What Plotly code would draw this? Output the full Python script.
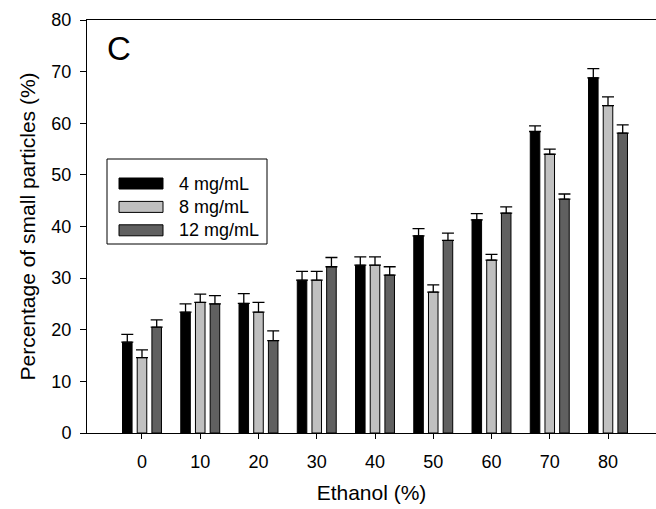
import plotly.graph_objects as go

# ---- data ----
ethanol = [0, 10, 20, 30, 40, 50, 60, 70, 80]
conc_labels = ["4 mg/mL", "8 mg/mL", "12 mg/mL"]
colors = ["#000000", "#c0c0c0", "#606060"]
vals_4 = [17.6, 23.4, 25.1, 29.6, 32.5, 38.2, 41.3, 58.4, 68.8]
err_4 = [1.5, 1.6, 1.9, 1.7, 1.6, 1.4, 1.2, 1.1, 1.8]
vals_8 = [14.6, 25.3, 23.4, 29.6, 32.5, 27.3, 33.5, 54.0, 63.4]
err_8 = [1.5, 1.6, 1.9, 1.7, 1.6, 1.4, 1.1, 1.0, 1.7]
vals_12 = [20.5, 25.0, 17.9, 32.2, 30.6, 37.3, 42.6, 45.3, 58.1]
err_12 = [1.4, 1.6, 1.9, 1.8, 1.6, 1.4, 1.2, 1.0, 1.6]
y_ticks = [0, 10, 20, 30, 40, 50, 60, 70, 80]
panel_label = "C"
x_title = "Ethanol (%)"
y_title = "Percentage of small particles (%)"

series = [vals_4, vals_8, vals_12]
errors = [err_4, err_8, err_12]

W, H = 656, 509
ML, MR, MT, MB = 87, 0, 20, 76
PW, PH = W - ML - MR, H - MT - MB
FONT = "Arial, Liberation Sans, sans-serif"


def px_x(x):
    return (x - ML) / PW


def px_y(y):
    return (H - MB - y) / PH


fig = go.Figure()
for name, col, v, e in zip(conc_labels, colors, series, errors):
    fig.add_trace(go.Bar(
        x=ethanol, y=v, name=name,
        marker=dict(color=col, line=dict(color="#000000", width=1)),
        error_y=dict(type="data", array=e, arrayminus=[0] * len(e), symmetric=False,
                     color="#000000", thickness=1.3, width=6),
        showlegend=False,
    ))

shapes = []
annotations = []
# legend box
shapes.append(dict(type="rect", xref="paper", yref="paper",
                   x0=px_x(107), x1=px_x(267), y0=px_y(244), y1=px_y(159),
                   line=dict(color="#000000", width=1), fillcolor="white"))
row0, step = 183.5, 23.4
for i, (name, col) in enumerate(zip(conc_labels, colors)):
    cy = row0 + i * step
    shapes.append(dict(type="rect", xref="paper", yref="paper",
                       x0=px_x(119), x1=px_x(163), y0=px_y(cy + 5.5), y1=px_y(cy - 5.5),
                       line=dict(color="#000000", width=1), fillcolor=col))
    annotations.append(dict(xref="paper", yref="paper", x=px_x(177), y=px_y(cy),
                            xanchor="left", yanchor="middle", text=name, showarrow=False,
                            font=dict(family=FONT, size=18, color="#000000")))
annotations.append(dict(xref="paper", yref="paper", x=px_x(105), y=px_y(48),
                        xanchor="left", yanchor="middle", text=panel_label, showarrow=False,
                        font=dict(family=FONT, size=33, color="#000000")))

fig.update_layout(
    width=W, height=H,
    margin=dict(l=ML, r=MR, t=MT, b=MB, pad=0),
    paper_bgcolor="white", plot_bgcolor="white",
    barmode="group", bargap=0.243, bargroupgap=0.35,
    font=dict(family=FONT, size=18, color="#000000"),
    shapes=shapes, annotations=annotations,
    xaxis=dict(range=[-9.44, 88.24], tickmode="array", tickvals=ethanol,
               ticktext=[str(v) for v in ethanol],
               ticks="outside", ticklen=5, tickcolor="#000000", tickwidth=1,
               showline=True, linecolor="#000000", linewidth=1, mirror=True,
               showgrid=False, zeroline=False, ticklabelstandoff=7,
               tickfont=dict(family=FONT, size=18),
               title=dict(text=x_title, font=dict(family=FONT, size=21), standoff=14)),
    yaxis=dict(range=[0, 80], tickmode="array", tickvals=y_ticks,
               ticks="outside", ticklen=6, tickcolor="#000000", tickwidth=1,
               showline=True, linecolor="#000000", linewidth=1, mirror=False,
               showgrid=False, zeroline=False, ticklabelstandoff=5,
               tickfont=dict(family=FONT, size=18),
               title=dict(text=y_title, font=dict(family=FONT, size=21), standoff=10)),
)

fig.write_html("out.html")
